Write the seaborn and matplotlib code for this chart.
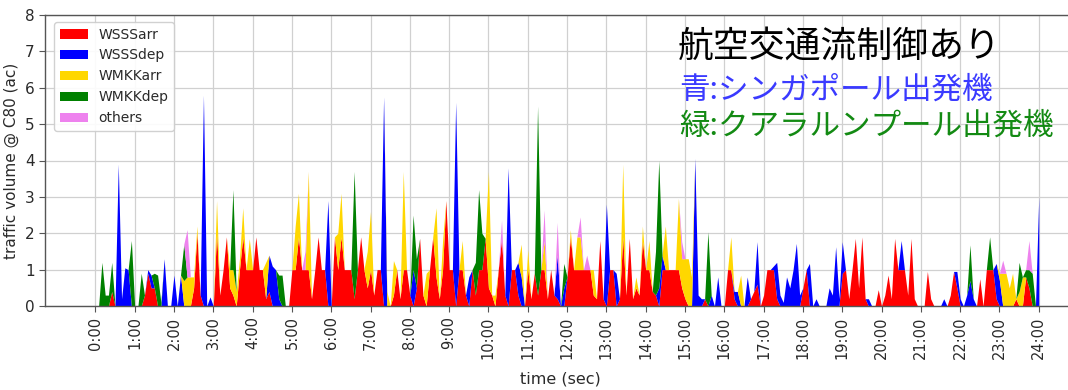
import numpy as np
import pandas as pd
import matplotlib
matplotlib.use("Agg")
import matplotlib.pyplot as plt
import seaborn as sns

# ---- data: 5-minute bins from 0:00 to 24:00 (one line per hour) ----
series_names = ["WSSSarr", "WSSSdep", "WMKKarr", "WMKKdep", "others"]
series_colors = ["#ff0000", "#0000ff", "#ffd700", "#008000", "#ee82ee"]
hour_labels = [f"{h}:00" for h in range(25)]
bin_minutes = 5

WSSSarr = [
    0, 0, 0, 0, 0, 0.4, 0, 0, 0, 0, 0, 0,
    0, 0, 0, 0.3, 0.9, 0.5, 0.5, 0, 0, 0, 0, 0,
    0, 0, 0, 0, 0, 0, 0.5, 2.0, 0.3, 0, 0, 0,
    0, 2.0, 0.3, 1.0, 1.9, 0.5, 0.3, 0, 1.0, 1.9, 1.0, 1.0,
    1.0, 1.9, 1.0, 1.0, 0.2, 0.4, 0, 0, 0, 0, 0, 0,
    1.0, 1.0, 1.9, 1.0, 1.0, 1.0, 0.2, 1.0, 1.9, 1.0, 1.0, 0,
    0, 1.9, 1.0, 1.9, 1.0, 1.0, 1.0, 0.2, 1.0, 1.9, 1.0, 0.5,
    1.0, 0.3, 1.0, 1.0, 0, 0, 0, 0.3, 1.0, 0.2, 1.0, 1.0,
    0.3, 0, 0.5, 1.86, 0.3, 0, 1.0, 1.9, 0.8, 0.2, 1.0, 2.9,
    1.0, 1.0, 0, 1.0, 1.0, 0.3, 0, 1.0, 0.3, 1.0, 1.0, 1.86,
    0.5, 0.3, 0, 1.0, 1.86, 0.3, 0, 1.0, 1.0, 0.3, 0, 0,
    1.0, 0.2, 0.9, 0.3, 1.0, 1.0, 0.2, 1.0, 0.3, 0.2, 0, 0,
    0.8, 1.9, 1.0, 1.0, 1.0, 1.0, 1.0, 1.0, 0.3, 0.2, 1.8, 0.2,
    0, 1.0, 1.0, 0, 0.2, 1.9, 0.3, 1.86, 0.2, 0.5, 0.3, 1.8,
    1.0, 1.0, 0.4, 0.3, 0, 1.0, 1.0, 1.0, 1.0, 1.0, 1.0, 0.5,
    0.2, 0, 0, 0, 0, 0, 0.2, 0, 0, 0, 0, 0,
    0, 1.0, 1.0, 0.2, 0, 0, 0, 0, 0.2, 0.4, 0.6, 0,
    0.3, 1.0, 1.0, 1.0, 0.2, 0, 0, 0, 0, 0, 0, 0,
    0.5, 1.0, 0, 0, 0, 0, 0, 0, 0, 0, 0, 0,
    0.9, 1.0, 0.2, 1.0, 1.86, 0.5, 1.9, 0.2, 0, 0, 0, 0.45,
    0, 0.3, 0.85, 0.2, 1.86, 1.0, 1.0, 1.0, 0.3, 1.86, 0.2, 0,
    0, 0, 0.95, 0.2, 0, 0, 0, 0, 0, 0.3, 0.95, 0.5,
    0, 0, 0, 0, 0, 0, 0.75, 0, 1.0, 1.0, 1.0, 0.2,
    0, 0, 0, 0, 0, 0.2, 0, 0, 0.8, 0.5, 0, 0,
    0,
]

WSSSdep = [
    0, 0, 0, 0, 0, 0, 0, 3.9, 0.2, 1.05, 1.0, 0,
    0, 0, 0, 0, 0.1, 0.35, 0, 0, 0, 1.3, 0, 0,
    0.85, 0, 0.85, 0, 0, 0, 0, 0, 0, 5.8, 0, 0.25,
    0, 0, 0, 0, 0, 0, 0, 0, 0, 0, 0, 0,
    0, 0, 0, 0, 0, 1.0, 1.1, 1.0, 0.2, 0, 0, 0,
    0, 0, 0, 0, 0, 0, 0, 0, 0, 0, 0, 2.9,
    0, 0, 0, 0, 0, 0, 0, 0, 0, 0, 0, 0,
    0, 0, 0, 0, 5.75, 0, 0, 0, 0, 0, 0, 0,
    0, 1.0, 0, 0, 0, 0, 0, 0, 0, 0, 0, 0,
    0, 0, 5.6, 0, 0, 0, 0.8, 0, 0, 0, 0, 0,
    0, 0, 0, 0, 0, 0, 3.8, 0, 0, 0.9, 0.8, 0,
    0, 0, 0, 0, 0, 0, 0, 0, 0, 1.2, 0, 0.5,
    0, 0, 0, 0, 0, 0, 0, 0, 0, 0, 0, 0,
    2.8, 0, 0, 0.9, 0, 0, 0, 0, 0, 0, 0, 0,
    0, 0, 0, 0, 0.5, 0.4, 0, 0, 0, 0, 0, 0,
    0, 0, 0, 4.06, 0.3, 0.2, 0, 0, 0.3, 0, 0.8, 0,
    0, 0, 0, 0.2, 0.4, 0, 0, 0.8, 0, 0, 1.17, 0,
    0, 0, 0, 0.1, 1.0, 0.3, 0.1, 0.8, 0.5, 1.0, 1.72, 0.3,
    0, 0, 1.17, 0, 0.2, 0, 0, 0, 0.5, 0.3, 1.63, 0.2,
    0.87, 0, 0, 0, 0, 0, 0, 0, 0.2, 0, 0, 0,
    0, 0, 0, 0, 0, 0, 0.8, 0, 0, 0, 0, 0,
    0, 0, 0, 0, 0, 0, 0, 0.2, 0, 0, 0, 0.45,
    0.2, 0, 0.3, 0.7, 0.2, 0, 0, 0, 0, 0, 0, 0.97,
    0.7, 0, 0, 0, 0, 0, 0, 0, 0, 0, 0, 0,
    3.0,
]

WMKKarr = [
    0, 0, 0, 0, 0, 0, 0, 0, 0, 0, 0, 0,
    0, 0, 0, 0, 0, 0, 0, 0, 0, 0, 0, 0,
    0, 0, 0, 0.7, 0.8, 0.8, 0.3, 0.2, 0, 0, 0, 0,
    0, 0.9, 0, 0, 0, 0.5, 0.7, 0.4, 0.3, 0.8, 0, 0.85,
    0, 0, 0, 0, 1.0, 0, 0, 0, 0, 0, 0, 0,
    0, 1.2, 1.2, 0, 0, 2.7, 0, 0, 0, 0, 0, 0,
    0, 0, 1.0, 1.2, 0, 0, 0, 0, 0, 0, 0, 1.0,
    1.6, 0, 0, 0, 0, 0.4, 0, 0.95, 0, 0, 2.7, 0,
    0, 0, 0, 0, 0, 0.9, 0, 0, 1.9, 0, 0.8, 0,
    0, 0, 0, 0, 0.8, 0, 0, 0, 0, 0, 0, 0,
    3.2, 0, 0.3, 0, 0, 0, 0, 0, 0, 0, 0.9, 0,
    0.55, 0, 0, 0, 0, 0.8, 0, 0, 0, 0, 0, 0,
    0, 0.2, 0, 0.9, 0.9, 0, 0, 0, 0.7, 0, 0, 0,
    0, 0, 0, 0, 0, 2.0, 0, 0, 0, 0.3, 0, 0.4,
    0, 0.8, 0, 0, 0, 0, 1.2, 0, 0, 0, 1.96, 0.8,
    1.1, 1.3, 0.8, 0, 0, 0, 0, 0, 0, 0, 0, 0,
    0, 0, 0.9, 0, 0, 0.85, 0, 0, 0, 0, 0, 0,
    0, 0, 0, 0, 0, 0, 0, 0, 0, 0, 0, 0,
    0, 0, 0, 0, 0, 0, 0, 0, 0, 0, 0, 0,
    0, 0, 0, 0, 0, 0, 0, 0, 0, 0, 0, 0,
    0, 0, 0, 0, 0, 0, 0, 0, 0, 0, 0, 0,
    0, 0, 0, 0, 0, 0, 0, 0, 0, 0, 0, 0,
    0, 0, 0, 0, 0, 0, 0, 0, 0, 0, 0, 0,
    0.2, 0.9, 0.9, 0.5, 0.9, 0, 0.4, 0.8, 0, 0, 0, 0,
    0,
]

WMKKdep = [
    0, 0, 1.2, 0.3, 0.3, 0.8, 0, 0, 0, 0, 0, 1.8,
    0, 0, 0.9, 0, 0, 0, 0.4, 0.85, 0.1, 0, 0, 0,
    0, 0, 0, 1.0, 0, 0, 0, 0, 0, 0, 0, 0,
    0, 0, 0, 0, 0, 0, 2.2, 0, 0, 0, 0, 0,
    0, 0, 0, 0, 0, 0, 0, 0, 0.65, 0.85, 0, 0,
    0, 0, 0, 0, 0, 0, 0, 0, 0, 0, 0, 0,
    0, 0, 0, 0, 0, 0, 0, 3.5, 0, 0, 0, 0,
    0, 0, 0, 0, 0, 0, 0, 0, 0, 0, 0, 0,
    0, 1.5, 0.8, 0, 0, 0, 0, 0, 0, 0, 0, 0,
    0, 0, 0, 0, 0, 0, 0, 0, 0.9, 2.2, 1.0, 0,
    0, 0, 0, 0, 0, 0, 0, 0, 0, 0, 0, 0,
    0, 0, 0, 5.2, 0, 0, 0, 0, 0, 0, 0, 0.67,
    0, 0, 0, 0, 0, 0, 0, 0, 0, 0, 0, 0,
    0, 0, 0, 0, 0, 0, 0, 0, 0, 0, 0, 0,
    0, 0, 0, 1.2, 3.5, 0, 0, 0, 0, 0, 0, 0,
    0, 0, 0, 0, 0, 0, 0, 2.04, 0, 0, 0, 0,
    0, 0, 0, 0, 0, 0, 0, 0, 0, 0, 0, 0,
    0, 0, 0, 0, 0, 0, 0, 0, 0, 0, 0, 0,
    0, 0, 0, 0, 0, 0, 0, 0, 0, 0, 0, 0,
    0, 0, 0, 0, 0, 0, 0, 0, 0, 0, 0, 0,
    0, 0, 0, 0, 0, 0, 0, 0, 0, 0, 0, 0,
    0, 0, 0, 0, 0, 0, 0, 0, 0, 0, 0, 0,
    0, 0, 0, 0.98, 0, 0, 0, 0, 0, 0.9, 0, 0,
    0, 0, 0, 0, 0, 0, 0.8, 0, 0.2, 0.5, 0.9, 0,
    0,
]

others = [
    0, 0, 0, 0, 0, 0, 0, 0, 0, 0, 0, 0,
    0, 0, 0, 0, 0, 0, 0, 0, 0, 0, 0, 0,
    0, 0, 0, 0, 1.3, 0, 0, 0, 0, 0, 0, 0,
    0, 0, 0, 0, 0, 0, 0, 0, 0, 0, 0, 0,
    0, 0, 0, 0, 0, 0, 0, 0, 0, 0, 0, 0,
    0, 0, 0, 0, 0.5, 0, 0, 0, 0, 0, 0, 0,
    0, 0, 0, 0, 0, 0, 0, 0, 0, 0, 0, 0,
    0, 0, 0, 0, 0, 0, 0, 0, 0, 0, 0, 0,
    0, 0, 0, 0, 0, 0, 0, 0, 0, 0, 0, 0,
    0, 0, 0, 0, 0, 0, 0, 0, 0, 0, 0, 0,
    0, 0, 0, 0, 0.5, 0, 0, 0, 0, 0, 0, 0,
    0, 0, 0, 0, 0, 0.84, 0, 0, 0, 0.9, 0, 0,
    0, 0, 0, 0, 0.55, 0, 0.4, 0, 0, 0, 0, 0,
    0, 0, 0, 0, 0, 0, 0, 0, 0, 0, 0, 0,
    0, 0, 0, 0, 0, 0, 0, 0, 0, 0, 0, 0.47,
    0, 0, 0, 0, 0, 0, 0, 0, 0, 0, 0, 0,
    0, 0, 0, 0, 0, 0, 0, 0, 0, 0, 0, 0,
    0, 0, 0, 0, 0, 0, 0, 0, 0, 0, 0, 0,
    0, 0, 0, 0, 0, 0, 0, 0, 0, 0, 0, 0,
    0, 0, 0, 0, 0, 0, 0, 0, 0, 0, 0, 0,
    0, 0, 0, 0, 0, 0, 0, 0, 0, 0, 0, 0,
    0, 0, 0, 0, 0, 0, 0, 0, 0, 0, 0, 0,
    0, 0, 0, 0, 0, 0, 0, 0, 0, 0, 0, 0,
    0, 0.36, 0, 0, 0, 0, 0, 0, 0, 0.8, 0, 0,
    0,
]

annot_title = "航空交通流制御あり"
annot_blue = "青:シンガポール出発機"
annot_green = "緑:クアラルンプール出発機"

# ---- build table ----
n = len(WSSSarr)
df = pd.DataFrame({
    "time": np.arange(n) * bin_minutes * 60,
    "WSSSarr": WSSSarr, "WSSSdep": WSSSdep, "WMKKarr": WMKKarr,
    "WMKKdep": WMKKdep, "others": others,
})

sns.set_style("ticks")
plt.rcParams["font.family"] = ["DejaVu Sans"]

fig = plt.figure(figsize=(10.68, 3.90), dpi=100)
ax = fig.add_axes([45 / 1068, 1 - 306 / 390, 1030 / 1068, 291 / 390])

ax.stackplot(df["time"], [df[c] for c in series_names],
             colors=series_colors, labels=series_names, linewidth=0)

ax.set_xlim(-4611, 89720)
ax.set_ylim(0, 8)
ax.set_xticks([h * 3600 for h in range(25)])
ax.set_xticklabels(hour_labels, rotation=90, fontsize=10.5, color="#2a2a2a")
ax.set_yticks(range(9))
ax.tick_params(axis="y", labelsize=11, labelcolor="#2a2a2a")
ax.tick_params(direction="out", length=4, color="#555555")
ax.grid(True, color="#d0d0d0", linewidth=0.9)
ax.set_axisbelow(True)
for s in ["left", "bottom", "top"]:
    ax.spines[s].set_color("#555555")
    ax.spines[s].set_linewidth(1.0)
ax.spines["right"].set_visible(False)

ax.set_xlabel("time (sec)", fontsize=11.5, color="#2a2a2a")
ax.xaxis.set_label_coords(0.5, (306 - 371) / 291)
ax.set_ylabel("traffic volume @ C80 (ac)", fontsize=11, color="#2a2a2a")

leg = ax.legend(loc="upper left", bbox_to_anchor=(0.009, 0.976),
                borderaxespad=0, fontsize=10, frameon=True,
                framealpha=0.9, edgecolor="#cccccc", fancybox=True)
for t in leg.get_texts():
    t.set_color("#2a2a2a")

jp = ["Noto Sans CJK JP", "DejaVu Sans"]
fig.text(678 / 1068, 1 - 48 / 390, annot_title, family=jp, fontsize=25.8,
         color="black", ha="left", va="center")
fig.text(679 / 1068, 1 - 90 / 390, annot_blue, family=jp, fontsize=22,
         color="#3a3aff", ha="left", va="center")
fig.text(679 / 1068, 1 - 126 / 390, annot_green, family=jp, fontsize=22,
         color="#138a13", ha="left", va="center")

fig.savefig("out.png", dpi=100)
